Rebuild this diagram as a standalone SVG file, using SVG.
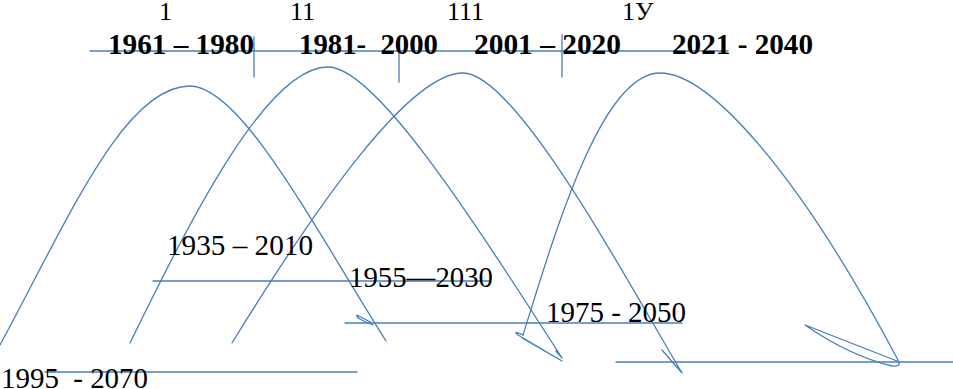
<svg xmlns="http://www.w3.org/2000/svg" width="953" height="389" viewBox="0 0 953 389">
<style>
.ln{fill:none;stroke:#4a7ebb;stroke-width:1.3;stroke-linejoin:round;stroke-linecap:round}
.t{font-family:"Liberation Serif","Times New Roman",serif;fill:#000;white-space:pre}
.hd{font-size:26px}
.bd{font-size:30px;font-weight:bold}
.lb{font-size:29px}
</style>
<rect width="953" height="389" fill="#fff"/>
<g id="connectors">
<path class="ln" d="M90,51 H728"/>
<path class="ln" d="M254,37 V77 M399,40 V82 M562,35 V77"/>
<path class="ln" d="M153,281 H490"/>
<path class="ln" d="M345,323 H682"/>
<path class="ln" d="M45,372 H357"/>
<path class="ln" d="M616,362 H953"/>
</g>
<g id="curve-1">
<path class="ln" d="M0,345 C70,215 125,86 190,86 C240,86 310,220 386,341 M372,323 L357,315 Q355,318 373,325"/>
</g>
<g id="curve-2">
<path class="ln" d="M130,343 C195,210 268,67 328,67 C375,67 470,215 562,358 L556,351"/>
</g>
<g id="curve-3">
<path class="ln" d="M232,343 C320,200 410,73 463,73 C515,73 622,272 682,373 L662,350"/>
</g>
<g id="curve-4">
<path class="ln" d="M523,335 C553,240 600,73 660,73 C710,73 800,175 898,360 Q902,367 892,366 Q850,356 805,325 L897,361"/>
<path class="ln" d="M523,335 Q512,330 518,335 L562,361 L522,338"/>
</g>
<g id="headers">
<text class="t hd" x="159" y="20">1</text>
<text class="t hd" x="290" y="20">11</text>
<text class="t hd" x="447" y="20">111</text>
<text class="t hd" x="622" y="20">1У</text>
<text class="t bd" x="108" y="54" textLength="146" lengthAdjust="spacingAndGlyphs">1961 – 1980</text>
<text class="t bd" x="299" y="54" textLength="139" lengthAdjust="spacingAndGlyphs" xml:space="preserve">1981-  2000</text>
<text class="t bd" x="474" y="54" textLength="147" lengthAdjust="spacingAndGlyphs">2001 – 2020</text>
<text class="t bd" x="672" y="54" textLength="141" lengthAdjust="spacingAndGlyphs">2021 - 2040</text>
</g>
<g id="labels">
<text class="t lb" x="167" y="255" textLength="146" lengthAdjust="spacingAndGlyphs">1935 – 2010</text>
<text class="t lb" x="349" y="287" textLength="144" lengthAdjust="spacingAndGlyphs">1955—2030</text>
<text class="t lb" x="546" y="322" textLength="140" lengthAdjust="spacingAndGlyphs">1975 - 2050</text>
<text class="t lb" x="1" y="388" textLength="147" lengthAdjust="spacingAndGlyphs" xml:space="preserve">1995  - 2070</text>
</g>
</svg>
